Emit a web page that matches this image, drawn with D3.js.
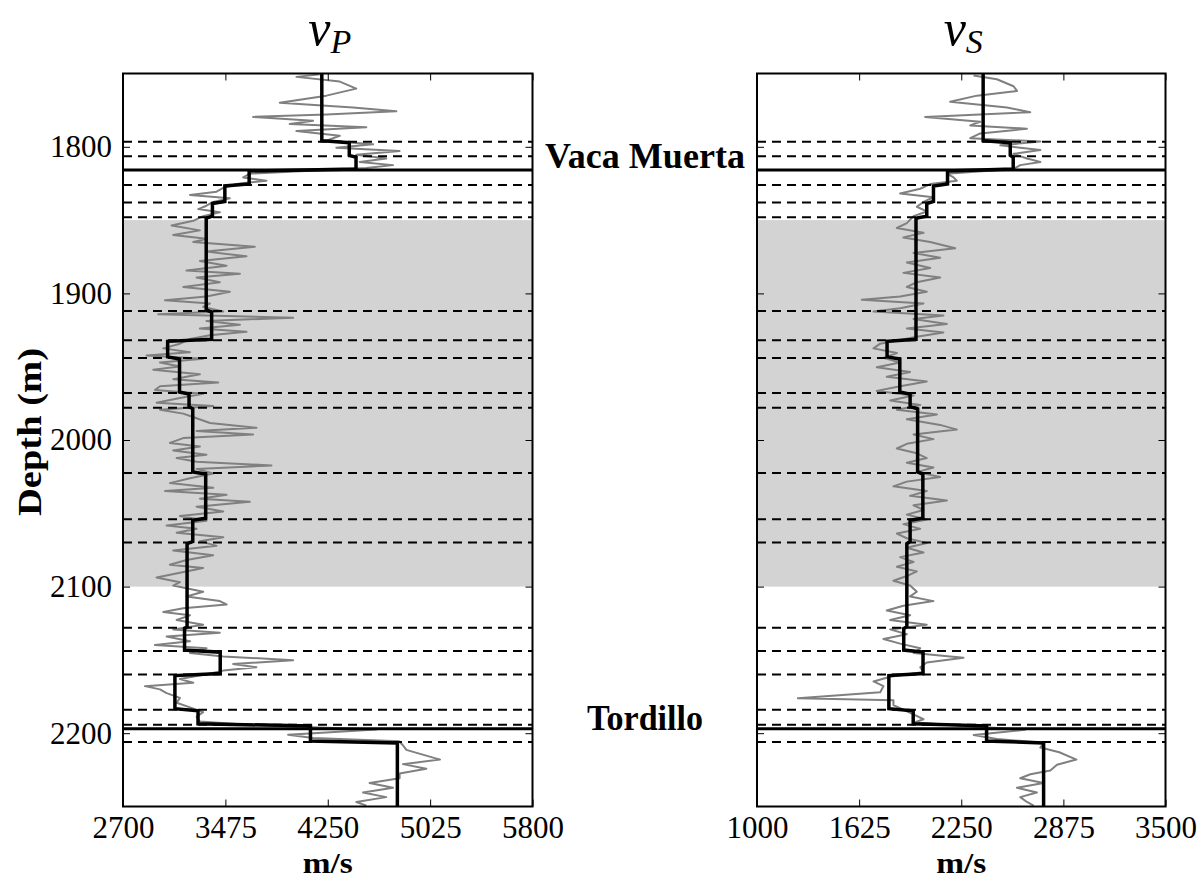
<!DOCTYPE html>
<html><head><meta charset="utf-8">
<script src="https://cdn.jsdelivr.net/npm/d3@7"></script>
<style>body{margin:0;background:#fff} svg{display:block}</style>
</head><body>
<svg id="chart" width="1202" height="880"></svg>
<script>
// ---------------- data ----------------
const depthDomain = [1750, 2250];
const depthTicks = [1800, 1900, 2000, 2100, 2200];
const vpDomain = [2700, 5800];
const vpTicks = [2700, 3475, 4250, 5025, 5800];
const vsDomain = [1000, 3500];
const vsTicks = [1000, 1625, 2250, 2875, 3500];

const shadedZone = [1850, 2100];
const horizonDepths = [1815.8, 2197];
const horizonNames = ["Vaca Muerta", "Tordillo"];
const dashedDepths = [1796.5, 1806.5, 1826, 1838, 1848, 1912, 1932, 1944, 1968, 1978,
  2022.5, 2054, 2070, 2128, 2144, 2160, 2184, 2194.3, 2206];

// blocky (upscaled) model: layer boundaries and layer values
const layerBounds = [1750, 1796.5, 1806.5, 1815.8, 1826, 1838, 1848, 1912, 1932, 1944, 1968,
  1978, 2022.5, 2054, 2070, 2128, 2144, 2160, 2184, 2194.3, 2206, 2250];
const vpBlocks = [4205, 4413, 4464, 3655, 3471, 3377, 3330, 3371, 3038, 3128, 3200, 3228,
  3326, 3228, 3185, 3166, 3436, 3093, 3268, 4119, 4777];
const vsBlocks = [2384, 2550, 2568, 2166, 2080, 2039, 1973, 1973, 1796, 1874, 1937, 1983,
  2015, 1937, 1917, 1898, 2016, 1807, 1956, 2405, 2754];

// well logs [depth, velocity]
const vpLog = [[1750.6,4189],[1752.3,4013],[1755.5,4341],[1760.3,4466],[1765.1,4240],[1770.0,3887],
[1773.2,4441],[1775.8,4769],[1778.0,4240],[1779.6,3685],[1782.2,4139],[1784.5,3962],[1786.7,4542],
[1789.3,4013],[1792.5,4341],[1795.8,4240],[1798.3,4593],[1800.6,4315],[1802.8,4794],[1805.4,4466],
[1808.0,4693],[1810.3,4492],[1812.5,4744],[1814.4,4542],[1818.3,3660],[1820.9,3610],[1823.1,3786],
[1825.4,3559],[1828.0,3459],[1830.6,3408],[1832.8,3207],[1835.1,3509],[1837.6,3383],[1840.2,3332],
[1842.5,3270],[1844.7,3433],[1847.3,3307],[1850.5,3232],[1853.7,3068],[1857.0,3282],[1860.2,3080],
[1862.8,3332],[1865.0,3232],[1868.2,3698],[1871.5,3332],[1874.7,3635],[1877.9,3282],[1881.1,3484],
[1884.4,3181],[1886.6,3585],[1889.2,3257],[1892.4,3433],[1895.6,3156],[1898.9,3509],[1902.1,3332],
[1904.7,3018],[1906.9,3358],[1909.2,3307],[1912.4,3459],[1914.3,2967],[1916.6,3988],[1918.8,3332],
[1921.4,3585],[1924.0,3282],[1926.2,3635],[1928.5,3358],[1931.1,3207],[1934.3,3131],[1937.5,3005],
[1940.1,3207],[1942.4,2879],[1944.6,3307],[1947.2,2980],[1949.8,3131],[1952.0,2929],[1955.2,3282],
[1958.5,3080],[1960.7,3421],[1963.3,2980],[1965.9,2942],[1968.5,3307],[1971.4,3131],[1974.6,2954],
[1976.8,3383],[1979.4,2980],[1982.0,3156],[1985.2,3257],[1988.4,3358],[1991.7,3710],[1993.9,3257],
[1996.2,3685],[1998.7,3156],[2002.0,3055],[2004.5,3282],[2007.1,3080],[2010.0,3332],[2012.3,3106],
[2014.8,3257],[2017.4,3824],[2019.7,3257],[2022.9,3383],[2026.1,3207],[2029.4,3055],[2032.6,3383],
[2034.8,3018],[2037.4,3484],[2040.0,3282],[2042.2,3660],[2045.5,3257],[2048.7,3459],[2051.9,3131],
[2055.1,3332],[2058.4,3030],[2060.6,3257],[2063.2,3106],[2066.4,3459],[2069.0,3282],[2072.2,3408],
[2075.4,3080],[2078.6,3383],[2081.9,3181],[2085.1,3055],[2087.3,3307],[2090.6,3131],[2093.8,2954],
[2097.0,3131],[2099.3,3080],[2103.5,3307],[2106.7,3181],[2109.9,3433],[2112.2,3484],[2114.7,3156],
[2117.3,3005],[2119.6,3207],[2122.8,3106],[2126.0,3307],[2129.2,3080],[2131.5,3433],[2134.1,3030],
[2137.3,3207],[2139.9,2942],[2142.1,3332],[2145.3,3207],[2147.6,3459],[2150.2,3988],[2152.8,3534],
[2155.0,3710],[2157.3,3459],[2159.8,3332],[2163.1,3131],[2165.6,3232],[2167.9,2866],[2170.1,2980],
[2172.7,3030],[2175.9,3131],[2179.2,3106],[2182.4,3207],[2185.6,3307],[2188.8,3257],[2192.1,3282],
[2194.5,3700],[2197.5,4620],[2201.1,3950],[2203.3,4140],[2205.5,4790],[2208.2,4819],[2211.4,4845],
[2218.0,5100],[2221.1,4819],[2224.3,4996],[2227.5,4794],[2230.7,4794],[2234.0,4567],[2237.2,4744],
[2240.4,4517],[2243.6,4693],[2246.9,4466],[2249.4,4542]];

const vsLog = [[1751.3,2325],[1753.9,2468],[1758.7,2570],[1761.9,2591],[1765.1,2346],[1769.3,2182],
[1773.2,2530],[1776.4,2672],[1779.6,2029],[1782.9,2366],[1785.4,2305],[1787.7,2652],[1790.9,2366],
[1794.1,2305],[1796.4,2734],[1799.0,2489],[1802.2,2734],[1804.8,2570],[1808.0,2652],[1810.3,2734],
[1812.5,2611],[1815.1,2570],[1818.3,2162],[1820.9,2203],[1823.1,2223],[1825.4,2060],[1828.6,1999],
[1831.8,1876],[1834.4,2080],[1837.6,2019],[1840.9,1978],[1844.1,2039],[1847.3,1958],[1852.1,1917],
[1855.4,1856],[1858.6,2019],[1861.8,1896],[1865.0,2060],[1869.2,2213],[1872.4,1958],[1875.7,2121],
[1878.9,1917],[1882.7,2060],[1886.0,1896],[1889.2,2121],[1892.4,1978],[1895.6,1917],[1898.9,2039],
[1902.1,1876],[1904.3,1641],[1906.9,2019],[1910.1,1876],[1912.4,1713],[1915.0,2141],[1917.5,1958],
[1920.8,2162],[1924.0,1917],[1926.6,2141],[1929.5,1978],[1934.3,1754],[1937.5,1713],[1940.7,1856],
[1944.0,1774],[1947.2,1876],[1950.4,1733],[1953.6,1937],[1956.9,1794],[1960.1,2039],[1963.3,1876],
[1966.5,1733],[1969.7,1958],[1973.0,1815],[1976.2,1999],[1979.4,1856],[1982.6,2101],[1985.9,1917],
[1989.7,2121],[1992.9,2223],[1996.2,1958],[1999.4,2080],[2002.6,1917],[2005.8,1856],[2009.1,1978],
[2012.3,2039],[2015.5,1917],[2018.7,2080],[2021.9,1978],[2025.2,2121],[2028.4,1917],[2031.6,1835],
[2034.8,2039],[2038.1,1937],[2041.3,2162],[2044.5,1958],[2047.7,2019],[2050.9,1917],[2054.2,2039],
[2057.4,1896],[2060.6,1999],[2063.8,1856],[2067.0,1917],[2070.3,2039],[2073.5,1917],[2076.7,2019],
[2079.9,1876],[2083.2,1958],[2086.4,1856],[2089.6,1978],[2092.8,1917],[2096.0,1835],[2099.3,1937],
[2103.5,1978],[2106.7,1937],[2109.9,2080],[2113.1,1896],[2116.3,1794],[2119.6,1937],[2122.8,1815],
[2126.0,2039],[2129.2,1815],[2132.5,1917],[2135.7,1774],[2138.9,1876],[2142.1,1999],[2145.3,1958],
[2148.6,2264],[2151.8,2039],[2155.0,1999],[2158.2,2019],[2161.5,1815],[2164.7,1713],[2167.9,1774],
[2172.1,1754],[2176.1,1250],[2177.6,1835],[2180.8,1835],[2184.0,1896],[2187.2,1958],[2190.5,2019],
[2192.5,1968],[2194.5,2200],[2197.6,2640],[2201.3,2326],[2204.0,2469],[2206.5,2755],[2209.8,2734],
[2213.0,2850],[2218.0,2955],[2221.5,2836],[2225.4,2795],[2228.0,2673],[2230.7,2611],[2234.0,2754],
[2237.2,2591],[2240.4,2713],[2243.6,2611],[2246.9,2652],[2249.4,2693]];

// ---------------- drawing ----------------
const svg = d3.select("#chart");
const yTop = 73.5, yBottom = 806.5;
const serif = "'Liberation Serif', 'DejaVu Serif', serif";
const y = d3.scaleLinear().domain(depthDomain).range([yTop, yBottom]);

const panels = [
  {x0: 123, x1: 532.5, domain: vpDomain, ticks: vpTicks, log: vpLog, blocks: vpBlocks, sub: "P", yLabels: true, id: "p"},
  {x0: 757, x1: 1165.5, domain: vsDomain, ticks: vsTicks, log: vsLog, blocks: vsBlocks, sub: "S", yLabels: false, id: "s"}
];

function stepPoints(bounds, vals, gap) {
  const pts = [];
  vals.forEach((v, i) => {
    const t = i === 0 ? bounds[i] : bounds[i] + gap;
    const b = i === vals.length - 1 ? bounds[i + 1] : bounds[i + 1] - gap;
    pts.push([v, t], [v, b]);
  });
  return pts;
}

panels.forEach(p => {
  const x = d3.scaleLinear().domain(p.domain).range([p.x0, p.x1]);
  const g = svg.append("g");
  const clipId = "clip-" + p.id;
  svg.append("clipPath").attr("id", clipId).append("rect")
    .attr("x", p.x0).attr("y", yTop).attr("width", p.x1 - p.x0).attr("height", yBottom - yTop);
  const plot = g.append("g").attr("clip-path", `url(#${clipId})`);

  plot.append("rect").attr("x", p.x0).attr("width", p.x1 - p.x0)
    .attr("y", y(shadedZone[0])).attr("height", y(shadedZone[1]) - y(shadedZone[0]))
    .attr("fill", "#d3d3d3");

  plot.append("path").datum(p.log)
    .attr("d", d3.line().x(d => x(d[1])).y(d => y(d[0])))
    .attr("fill", "none").attr("stroke", "#808080").attr("stroke-width", 2)
    .attr("stroke-linejoin", "round");

  plot.selectAll("line.dash").data(dashedDepths).join("line").attr("class", "dash")
    .attr("x1", p.x0).attr("x2", p.x1).attr("y1", d => y(d)).attr("y2", d => y(d))
    .attr("stroke", "#000").attr("stroke-width", 2).attr("stroke-dasharray", "9,6");

  plot.selectAll("line.hz").data(horizonDepths).join("line").attr("class", "hz")
    .attr("x1", p.x0).attr("x2", p.x1).attr("y1", d => y(d)).attr("y2", d => y(d))
    .attr("stroke", "#000").attr("stroke-width", 3);

  plot.append("path").datum(stepPoints(layerBounds, p.blocks, 0.7))
    .attr("d", d3.line().x(d => x(d[0])).y(d => y(d[1])))
    .attr("fill", "none").attr("stroke", "#000").attr("stroke-width", 3.5)
    .attr("stroke-linejoin", "miter");

  const tl = 7;
  g.append("g").attr("transform", `translate(0,${yBottom})`)
    .call(d3.axisBottom(x).tickValues(p.ticks).tickSize(-tl).tickPadding(9).tickFormat(d3.format("d")));
  g.append("g").attr("transform", `translate(0,${yTop})`)
    .call(d3.axisTop(x).tickValues(p.ticks).tickSize(-tl).tickFormat(""));
  g.append("g").attr("transform", `translate(${p.x0},0)`)
    .call(d3.axisLeft(y).tickValues(depthTicks).tickSize(-tl).tickPadding(11)
      .tickFormat(p.yLabels ? d3.format("d") : ""));
  g.append("g").attr("transform", `translate(${p.x1},0)`)
    .call(d3.axisRight(y).tickValues(depthTicks).tickSize(-tl).tickFormat(""));
  g.selectAll(".domain").remove();
  g.selectAll(".tick line").attr("stroke", "#000").attr("stroke-width", 1);
  g.selectAll(".tick text").attr("font-family", serif).attr("font-size", 31).attr("fill", "#000");

  g.append("rect").attr("x", p.x0).attr("y", yTop).attr("width", p.x1 - p.x0).attr("height", yBottom - yTop)
    .attr("fill", "none").attr("stroke", "#000").attr("stroke-width", 2);

  g.append("text").attr("x", (p.x0 + p.x1) / 2).attr("y", 873).attr("text-anchor", "middle")
    .attr("font-family", serif).attr("font-weight", "bold").attr("font-size", 30)
    .attr("textLength", 50).attr("lengthAdjust", "spacingAndGlyphs").text("m/s");

  const t = g.append("text").attr("x", (p.x0 + p.x1) / 2 + 2).attr("y", 45).attr("text-anchor", "middle")
    .attr("font-family", serif).attr("font-style", "italic");
  t.append("tspan").attr("font-size", 50).text("v");
  t.append("tspan").attr("font-size", 34).attr("dy", 8).text(p.sub);
});

const hzLen = [200, 116];
svg.selectAll("text.hzl").data(horizonNames).join("text").attr("class", "hzl")
  .attr("x", 645).attr("y", (d, i) => i === 0 ? y(horizonDepths[i]) - 2 : y(horizonDepths[i]) + 1)
  .attr("text-anchor", "middle").attr("font-family", serif).attr("font-weight", "bold")
  .attr("font-size", 35).attr("textLength", (d, i) => hzLen[i]).attr("lengthAdjust", "spacingAndGlyphs")
  .text(d => d);

svg.append("text").attr("transform", `translate(41,${432}) rotate(-90)`)
  .attr("text-anchor", "middle").attr("font-family", serif).attr("font-weight", "bold")
  .attr("font-size", 33).attr("textLength", 168).attr("lengthAdjust", "spacingAndGlyphs")
  .text("Depth (m)");
</script>
</body></html>
